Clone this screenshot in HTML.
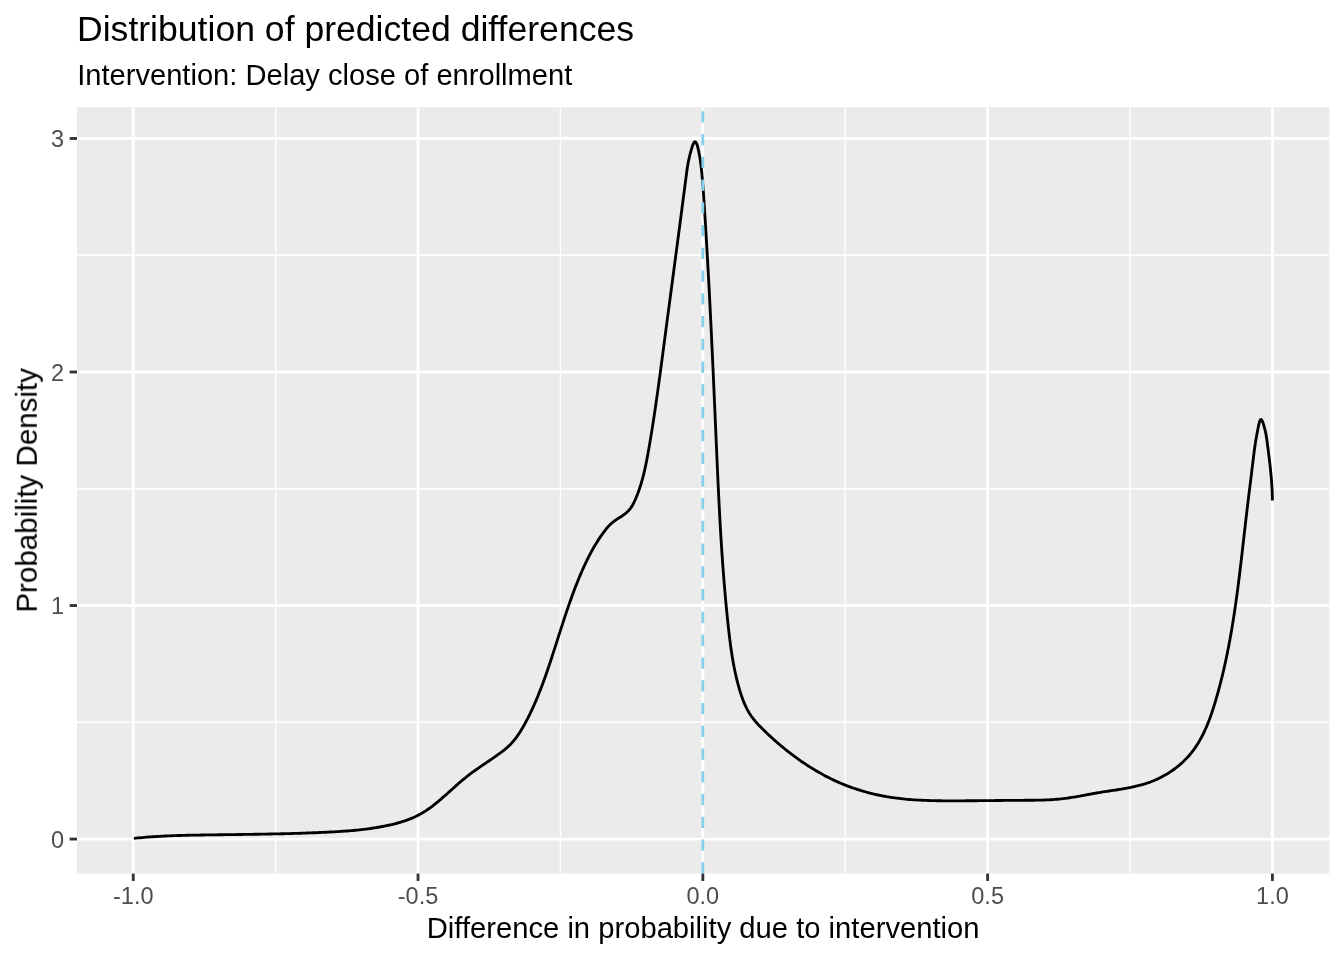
<!DOCTYPE html>
<html><head><meta charset="utf-8"><style>
html,body{margin:0;padding:0;background:#fff;width:1344px;height:960px;overflow:hidden}
svg{display:block}
</style></head><body>
<svg width="1344" height="960" viewBox="0 0 1344 960">
<rect width="1344" height="960" fill="#fff"/>
<rect x="77.0" y="107.1" width="1252.33" height="766.50" fill="#EBEBEB"/>
<line x1="275.64" y1="107.1" x2="275.64" y2="873.6" stroke="#fff" stroke-width="1.423"/>
<line x1="560.43" y1="107.1" x2="560.43" y2="873.6" stroke="#fff" stroke-width="1.423"/>
<line x1="845.23" y1="107.1" x2="845.23" y2="873.6" stroke="#fff" stroke-width="1.423"/>
<line x1="1130.02" y1="107.1" x2="1130.02" y2="873.6" stroke="#fff" stroke-width="1.423"/>
<line x1="77.0" y1="722.29" x2="1329.33" y2="722.29" stroke="#fff" stroke-width="1.423"/>
<line x1="77.0" y1="488.77" x2="1329.33" y2="488.77" stroke="#fff" stroke-width="1.423"/>
<line x1="77.0" y1="255.25" x2="1329.33" y2="255.25" stroke="#fff" stroke-width="1.423"/>
<line x1="133.24" y1="107.1" x2="133.24" y2="873.6" stroke="#fff" stroke-width="2.845"/>
<line x1="418.04" y1="107.1" x2="418.04" y2="873.6" stroke="#fff" stroke-width="2.845"/>
<line x1="702.83" y1="107.1" x2="702.83" y2="873.6" stroke="#fff" stroke-width="2.845"/>
<line x1="987.62" y1="107.1" x2="987.62" y2="873.6" stroke="#fff" stroke-width="2.845"/>
<line x1="1272.42" y1="107.1" x2="1272.42" y2="873.6" stroke="#fff" stroke-width="2.845"/>
<line x1="77.0" y1="839.05" x2="1329.33" y2="839.05" stroke="#fff" stroke-width="2.845"/>
<line x1="77.0" y1="605.53" x2="1329.33" y2="605.53" stroke="#fff" stroke-width="2.845"/>
<line x1="77.0" y1="372.01" x2="1329.33" y2="372.01" stroke="#fff" stroke-width="2.845"/>
<line x1="77.0" y1="138.49" x2="1329.33" y2="138.49" stroke="#fff" stroke-width="2.845"/>
<path d="M133.95,838.40 L136.05,838.18 L138.15,837.96 L140.25,837.76 L142.35,837.56 L144.46,837.38 L146.56,837.20 L148.66,837.04 L150.77,836.88 L152.87,836.73 L154.98,836.59 L157.08,836.46 L159.19,836.34 L161.29,836.22 L163.40,836.11 L165.50,836.01 L167.61,835.92 L169.72,835.83 L171.82,835.74 L173.93,835.66 L176.04,835.59 L178.15,835.52 L180.26,835.46 L182.36,835.40 L184.47,835.34 L186.58,835.29 L188.69,835.25 L190.80,835.20 L192.91,835.16 L195.02,835.12 L197.13,835.08 L199.24,835.05 L201.35,835.01 L203.46,834.98 L205.57,834.95 L207.67,834.92 L209.78,834.89 L211.89,834.86 L214.00,834.83 L216.11,834.80 L218.22,834.77 L220.33,834.75 L222.44,834.72 L224.55,834.69 L226.66,834.66 L228.77,834.64 L230.88,834.61 L232.99,834.58 L235.10,834.55 L237.21,834.53 L239.32,834.50 L241.43,834.47 L243.54,834.44 L245.65,834.41 L247.76,834.38 L249.87,834.35 L251.98,834.32 L254.09,834.29 L256.20,834.25 L258.31,834.22 L260.42,834.18 L262.52,834.15 L264.63,834.11 L266.74,834.07 L268.85,834.03 L270.96,833.99 L273.07,833.95 L275.18,833.90 L277.29,833.86 L279.40,833.81 L281.51,833.76 L283.62,833.71 L285.73,833.66 L287.83,833.61 L289.94,833.55 L292.05,833.49 L294.16,833.43 L296.27,833.37 L298.38,833.31 L300.49,833.24 L302.60,833.17 L304.70,833.10 L306.81,833.03 L308.92,832.95 L311.03,832.87 L313.14,832.79 L315.24,832.71 L317.35,832.62 L319.46,832.53 L321.57,832.44 L323.68,832.34 L325.78,832.24 L327.89,832.14 L330.00,832.04 L332.10,831.93 L334.21,831.81 L336.32,831.69 L338.42,831.56 L340.53,831.43 L342.63,831.29 L344.74,831.14 L346.84,830.99 L348.94,830.82 L351.04,830.65 L353.14,830.46 L355.24,830.27 L357.34,830.06 L359.44,829.84 L361.53,829.61 L363.62,829.37 L365.72,829.11 L367.81,828.84 L369.90,828.56 L371.98,828.26 L374.07,827.94 L376.15,827.61 L378.23,827.26 L380.31,826.89 L382.39,826.51 L384.46,826.10 L386.54,825.68 L388.61,825.24 L390.67,824.77 L392.74,824.29 L394.80,823.78 L396.85,823.25 L398.89,822.69 L400.93,822.10 L402.95,821.47 L404.95,820.82 L406.94,820.12 L408.92,819.40 L410.87,818.63 L412.81,817.82 L414.72,816.96 L416.61,816.06 L418.47,815.11 L420.30,814.12 L422.11,813.08 L423.90,811.99 L425.66,810.87 L427.40,809.70 L429.12,808.51 L430.83,807.28 L432.51,806.01 L434.18,804.72 L435.84,803.41 L437.48,802.07 L439.11,800.71 L440.73,799.34 L442.34,797.95 L443.94,796.55 L445.54,795.13 L447.13,793.71 L448.72,792.29 L450.31,790.86 L451.89,789.43 L453.48,788.01 L455.06,786.59 L456.65,785.17 L458.25,783.77 L459.85,782.38 L461.46,781.01 L463.07,779.65 L464.70,778.32 L466.34,777.01 L467.99,775.72 L469.65,774.45 L471.32,773.19 L473.00,771.96 L474.69,770.73 L476.38,769.52 L478.09,768.32 L479.80,767.13 L481.53,765.94 L483.26,764.76 L484.99,763.57 L486.73,762.39 L488.48,761.21 L490.23,760.02 L491.99,758.83 L493.75,757.63 L495.52,756.42 L497.27,755.19 L499.01,753.94 L500.74,752.67 L502.44,751.38 L504.11,750.06 L505.75,748.70 L507.35,747.31 L508.90,745.88 L510.40,744.40 L511.84,742.88 L513.22,741.31 L514.56,739.70 L515.85,738.06 L517.09,736.38 L518.29,734.66 L519.45,732.92 L520.58,731.15 L521.68,729.36 L522.74,727.55 L523.79,725.72 L524.80,723.88 L525.81,722.03 L526.79,720.17 L527.76,718.30 L528.71,716.42 L529.64,714.53 L530.56,712.64 L531.47,710.73 L532.36,708.82 L533.23,706.91 L534.10,704.98 L534.94,703.05 L535.78,701.11 L536.60,699.17 L537.42,697.22 L538.22,695.27 L539.00,693.31 L539.78,691.34 L540.55,689.37 L541.31,687.40 L542.06,685.42 L542.79,683.44 L543.52,681.45 L544.25,679.46 L544.96,677.47 L545.67,675.47 L546.37,673.48 L547.06,671.48 L547.75,669.48 L548.43,667.47 L549.10,665.47 L549.77,663.46 L550.44,661.46 L551.10,659.45 L551.76,657.44 L552.41,655.43 L553.06,653.43 L553.71,651.42 L554.36,649.41 L555.00,647.40 L555.65,645.39 L556.29,643.39 L556.93,641.38 L557.57,639.37 L558.21,637.37 L558.85,635.36 L559.49,633.36 L560.13,631.35 L560.77,629.35 L561.42,627.34 L562.06,625.34 L562.71,623.34 L563.36,621.34 L564.02,619.34 L564.68,617.35 L565.34,615.35 L566.01,613.36 L566.68,611.36 L567.35,609.37 L568.03,607.38 L568.72,605.40 L569.41,603.41 L570.11,601.43 L570.82,599.44 L571.53,597.46 L572.25,595.49 L572.98,593.51 L573.71,591.54 L574.46,589.57 L575.21,587.60 L575.97,585.63 L576.74,583.67 L577.52,581.71 L578.32,579.75 L579.12,577.80 L579.93,575.85 L580.76,573.90 L581.60,571.95 L582.45,570.01 L583.31,568.08 L584.18,566.15 L585.07,564.23 L585.98,562.31 L586.90,560.40 L587.84,558.50 L588.79,556.61 L589.76,554.73 L590.75,552.86 L591.76,551.00 L592.78,549.16 L593.83,547.33 L594.89,545.51 L595.98,543.70 L597.09,541.91 L598.22,540.14 L599.37,538.38 L600.54,536.64 L601.74,534.92 L602.96,533.22 L604.21,531.53 L605.49,529.87 L606.79,528.23 L608.15,526.64 L609.56,525.11 L611.06,523.66 L612.64,522.29 L614.32,521.02 L616.07,519.82 L617.87,518.67 L619.69,517.52 L621.50,516.36 L623.27,515.14 L624.98,513.87 L626.62,512.52 L628.15,511.08 L629.57,509.54 L630.84,507.89 L631.99,506.15 L633.03,504.32 L633.98,502.44 L634.88,500.52 L635.72,498.58 L636.54,496.63 L637.32,494.67 L638.07,492.70 L638.79,490.72 L639.48,488.73 L640.14,486.73 L640.77,484.72 L641.38,482.71 L641.96,480.69 L642.53,478.66 L643.06,476.63 L643.58,474.59 L644.08,472.54 L644.56,470.49 L645.03,468.43 L645.47,466.37 L645.91,464.31 L646.33,462.24 L646.74,460.17 L647.14,458.09 L647.52,456.02 L647.90,453.94 L648.28,451.86 L648.64,449.78 L649.01,447.70 L649.37,445.61 L649.72,443.53 L650.07,441.45 L650.42,439.37 L650.77,437.28 L651.11,435.20 L651.45,433.11 L651.79,431.03 L652.12,428.94 L652.45,426.86 L652.78,424.77 L653.10,422.69 L653.43,420.60 L653.75,418.51 L654.06,416.43 L654.38,414.34 L654.69,412.25 L655.00,410.17 L655.31,408.08 L655.61,405.99 L655.92,403.90 L656.22,401.82 L656.52,399.73 L656.82,397.64 L657.11,395.55 L657.41,393.46 L657.70,391.37 L657.99,389.28 L658.28,387.19 L658.57,385.10 L658.85,383.01 L659.14,380.93 L659.42,378.84 L659.71,376.75 L659.99,374.66 L660.27,372.57 L660.55,370.48 L660.83,368.39 L661.11,366.30 L661.39,364.21 L661.67,362.11 L661.94,360.02 L662.22,357.93 L662.50,355.84 L662.77,353.75 L663.05,351.66 L663.32,349.57 L663.60,347.48 L663.87,345.39 L664.15,343.30 L664.43,341.21 L664.70,339.12 L664.98,337.03 L665.25,334.94 L665.53,332.85 L665.81,330.76 L666.08,328.67 L666.36,326.58 L666.64,324.49 L666.91,322.40 L667.19,320.31 L667.47,318.22 L667.74,316.13 L668.02,314.04 L668.30,311.95 L668.58,309.86 L668.85,307.77 L669.13,305.68 L669.41,303.59 L669.68,301.50 L669.96,299.41 L670.24,297.32 L670.52,295.23 L670.79,293.14 L671.07,291.05 L671.35,288.96 L671.63,286.87 L671.90,284.78 L672.18,282.69 L672.46,280.60 L672.73,278.51 L673.01,276.42 L673.29,274.33 L673.57,272.24 L673.84,270.15 L674.12,268.06 L674.40,265.97 L674.67,263.88 L674.95,261.79 L675.23,259.70 L675.51,257.61 L675.78,255.51 L676.06,253.42 L676.34,251.33 L676.61,249.24 L676.89,247.15 L677.16,245.06 L677.44,242.97 L677.72,240.88 L677.99,238.78 L678.27,236.69 L678.54,234.60 L678.82,232.51 L679.10,230.42 L679.37,228.32 L679.65,226.23 L679.92,224.14 L680.20,222.05 L680.47,219.95 L680.75,217.86 L681.02,215.77 L681.30,213.67 L681.57,211.58 L681.85,209.49 L682.12,207.39 L682.39,205.30 L682.67,203.21 L682.94,201.11 L683.21,199.02 L683.49,196.92 L683.76,194.83 L684.03,192.73 L684.31,190.64 L684.58,188.54 L684.85,186.45 L685.12,184.35 L685.39,182.26 L685.67,180.16 L685.94,178.07 L686.21,175.97 L686.48,173.87 L686.75,171.78 L687.03,169.71 L687.33,167.67 L687.64,165.67 L687.98,163.71 L688.35,161.77 L688.76,159.80 L689.23,157.74 L689.76,155.54 L690.36,153.17 L691.05,150.59 L691.81,147.95 L692.62,145.49 L693.46,143.46 L694.31,142.10 L695.14,141.66 L695.94,142.27 L696.70,143.78 L697.41,145.92 L698.06,148.45 L698.65,151.13 L699.16,153.72 L699.60,156.11 L699.98,158.33 L700.30,160.43 L700.59,162.45 L700.85,164.43 L701.10,166.41 L701.33,168.41 L701.55,170.43 L701.76,172.46 L701.96,174.52 L702.16,176.59 L702.34,178.67 L702.52,180.76 L702.69,182.87 L702.86,184.98 L703.02,187.11 L703.17,189.23 L703.32,191.37 L703.47,193.50 L703.61,195.64 L703.75,197.78 L703.89,199.91 L704.03,202.05 L704.16,204.17 L704.30,206.30 L704.44,208.42 L704.57,210.54 L704.70,212.65 L704.84,214.76 L704.97,216.87 L705.10,218.97 L705.23,221.08 L705.36,223.18 L705.49,225.28 L705.62,227.37 L705.75,229.47 L705.88,231.57 L706.01,233.66 L706.13,235.75 L706.26,237.85 L706.38,239.94 L706.51,242.04 L706.63,244.13 L706.75,246.23 L706.88,248.33 L707.00,250.42 L707.12,252.52 L707.24,254.62 L707.36,256.71 L707.48,258.81 L707.60,260.91 L707.72,263.01 L707.83,265.11 L707.95,267.21 L708.07,269.31 L708.18,271.41 L708.30,273.51 L708.41,275.61 L708.53,277.72 L708.64,279.82 L708.75,281.92 L708.86,284.02 L708.98,286.13 L709.09,288.23 L709.20,290.33 L709.31,292.44 L709.42,294.54 L709.53,296.65 L709.63,298.75 L709.74,300.86 L709.85,302.96 L709.96,305.07 L710.06,307.17 L710.17,309.28 L710.28,311.39 L710.38,313.49 L710.49,315.60 L710.59,317.71 L710.70,319.81 L710.80,321.92 L710.90,324.03 L711.01,326.14 L711.11,328.25 L711.21,330.35 L711.31,332.46 L711.41,334.57 L711.51,336.68 L711.61,338.79 L711.71,340.90 L711.81,343.01 L711.91,345.12 L712.01,347.23 L712.11,349.34 L712.21,351.45 L712.31,353.56 L712.41,355.67 L712.50,357.78 L712.60,359.89 L712.70,362.00 L712.80,364.11 L712.89,366.22 L712.99,368.33 L713.09,370.44 L713.18,372.55 L713.28,374.66 L713.37,376.77 L713.47,378.88 L713.56,380.99 L713.66,383.10 L713.75,385.21 L713.85,387.32 L713.94,389.43 L714.03,391.54 L714.13,393.66 L714.22,395.77 L714.31,397.88 L714.41,399.99 L714.50,402.10 L714.59,404.21 L714.69,406.32 L714.78,408.43 L714.87,410.54 L714.96,412.65 L715.06,414.76 L715.15,416.87 L715.24,418.98 L715.33,421.09 L715.43,423.20 L715.52,425.31 L715.61,427.42 L715.70,429.53 L715.79,431.64 L715.88,433.75 L715.98,435.86 L716.07,437.97 L716.16,440.07 L716.25,442.18 L716.34,444.29 L716.43,446.40 L716.53,448.51 L716.62,450.62 L716.71,452.72 L716.80,454.83 L716.89,456.94 L716.99,459.05 L717.08,461.15 L717.17,463.26 L717.27,465.37 L717.36,467.47 L717.46,469.58 L717.55,471.69 L717.65,473.79 L717.74,475.90 L717.84,478.00 L717.94,480.11 L718.03,482.21 L718.13,484.32 L718.23,486.43 L718.33,488.53 L718.43,490.64 L718.53,492.74 L718.64,494.85 L718.74,496.95 L718.84,499.06 L718.95,501.16 L719.05,503.26 L719.16,505.37 L719.27,507.47 L719.38,509.58 L719.49,511.68 L719.60,513.78 L719.71,515.89 L719.83,517.99 L719.94,520.10 L720.06,522.20 L720.18,524.30 L720.30,526.41 L720.42,528.51 L720.54,530.61 L720.67,532.72 L720.79,534.82 L720.92,536.92 L721.05,539.03 L721.18,541.13 L721.31,543.23 L721.44,545.33 L721.58,547.44 L721.72,549.54 L721.86,551.64 L722.00,553.74 L722.14,555.85 L722.28,557.95 L722.43,560.05 L722.58,562.15 L722.73,564.26 L722.88,566.36 L723.04,568.46 L723.20,570.56 L723.36,572.67 L723.52,574.77 L723.68,576.87 L723.85,578.97 L724.02,581.07 L724.19,583.18 L724.36,585.28 L724.54,587.38 L724.72,589.48 L724.90,591.58 L725.08,593.69 L725.27,595.79 L725.45,597.89 L725.64,599.99 L725.84,602.10 L726.04,604.20 L726.23,606.30 L726.44,608.40 L726.64,610.50 L726.85,612.61 L727.06,614.71 L727.27,616.81 L727.49,618.91 L727.71,621.01 L727.93,623.12 L728.16,625.22 L728.39,627.32 L728.62,629.42 L728.86,631.52 L729.10,633.63 L729.35,635.73 L729.60,637.83 L729.86,639.92 L730.13,642.02 L730.40,644.12 L730.68,646.21 L730.98,648.31 L731.28,650.40 L731.59,652.49 L731.91,654.57 L732.24,656.66 L732.58,658.74 L732.94,660.82 L733.31,662.89 L733.69,664.97 L734.09,667.04 L734.50,669.10 L734.92,671.16 L735.36,673.22 L735.82,675.28 L736.29,677.33 L736.78,679.38 L737.29,681.42 L737.82,683.45 L738.36,685.49 L738.93,687.51 L739.51,689.54 L740.12,691.55 L740.75,693.56 L741.40,695.56 L742.09,697.55 L742.81,699.52 L743.57,701.48 L744.36,703.42 L745.21,705.33 L746.10,707.22 L747.04,709.09 L748.03,710.93 L749.09,712.74 L750.20,714.51 L751.38,716.25 L752.63,717.95 L753.94,719.62 L755.30,721.25 L756.71,722.85 L758.15,724.43 L759.63,725.98 L761.13,727.52 L762.64,729.03 L764.17,730.53 L765.70,732.02 L767.23,733.49 L768.77,734.94 L770.32,736.38 L771.87,737.81 L773.43,739.23 L775.00,740.63 L776.58,742.02 L778.16,743.39 L779.76,744.75 L781.36,746.10 L782.97,747.43 L784.59,748.76 L786.22,750.07 L787.85,751.36 L789.50,752.65 L791.16,753.92 L792.83,755.18 L794.51,756.43 L796.20,757.66 L797.91,758.89 L799.62,760.10 L801.35,761.30 L803.09,762.49 L804.84,763.67 L806.60,764.83 L808.37,765.98 L810.16,767.12 L811.95,768.24 L813.76,769.34 L815.57,770.43 L817.40,771.51 L819.24,772.56 L821.08,773.60 L822.94,774.63 L824.80,775.63 L826.68,776.62 L828.56,777.58 L830.46,778.53 L832.36,779.46 L834.27,780.36 L836.19,781.25 L838.12,782.11 L840.05,782.96 L842.00,783.78 L843.95,784.58 L845.91,785.36 L847.88,786.12 L849.85,786.85 L851.83,787.57 L853.82,788.26 L855.82,788.94 L857.82,789.59 L859.82,790.22 L861.84,790.84 L863.86,791.43 L865.88,792.00 L867.91,792.55 L869.95,793.08 L871.99,793.59 L874.04,794.08 L876.09,794.55 L878.14,795.00 L880.20,795.43 L882.27,795.84 L884.33,796.24 L886.40,796.61 L888.48,796.96 L890.56,797.29 L892.64,797.60 L894.72,797.90 L896.81,798.17 L898.90,798.43 L901.00,798.67 L903.09,798.90 L905.19,799.11 L907.29,799.30 L909.39,799.48 L911.50,799.64 L913.60,799.80 L915.71,799.93 L917.82,800.06 L919.93,800.17 L922.04,800.28 L924.16,800.37 L926.27,800.45 L928.38,800.52 L930.50,800.58 L932.62,800.64 L934.73,800.68 L936.85,800.72 L938.97,800.76 L941.08,800.78 L943.20,800.80 L945.31,800.82 L947.43,800.83 L949.54,800.83 L951.66,800.83 L953.77,800.83 L955.88,800.83 L957.99,800.83 L960.10,800.82 L962.21,800.81 L964.32,800.80 L966.43,800.79 L968.53,800.77 L970.64,800.76 L972.75,800.74 L974.85,800.73 L976.95,800.71 L979.06,800.69 L981.16,800.67 L983.27,800.65 L985.37,800.63 L987.47,800.61 L989.58,800.59 L991.68,800.57 L993.78,800.55 L995.89,800.52 L997.99,800.50 L1000.10,800.48 L1002.20,800.46 L1004.31,800.44 L1006.42,800.42 L1008.52,800.40 L1010.63,800.38 L1012.74,800.37 L1014.85,800.35 L1016.96,800.34 L1019.08,800.32 L1021.19,800.31 L1023.30,800.30 L1025.42,800.29 L1027.54,800.28 L1029.65,800.26 L1031.77,800.25 L1033.89,800.23 L1036.01,800.20 L1038.12,800.16 L1040.24,800.12 L1042.35,800.06 L1044.47,799.99 L1046.58,799.91 L1048.69,799.82 L1050.79,799.71 L1052.90,799.58 L1055.00,799.43 L1057.10,799.26 L1059.19,799.07 L1061.28,798.86 L1063.37,798.62 L1065.45,798.36 L1067.53,798.08 L1069.61,797.78 L1071.68,797.46 L1073.75,797.13 L1075.82,796.78 L1077.89,796.42 L1079.96,796.05 L1082.03,795.67 L1084.10,795.29 L1086.17,794.91 L1088.24,794.52 L1090.31,794.14 L1092.38,793.76 L1094.46,793.38 L1096.54,793.01 L1098.62,792.66 L1100.71,792.31 L1102.80,791.97 L1104.89,791.65 L1106.98,791.33 L1109.08,791.01 L1111.18,790.69 L1113.28,790.38 L1115.37,790.06 L1117.47,789.74 L1119.57,789.41 L1121.66,789.07 L1123.75,788.72 L1125.83,788.35 L1127.91,787.97 L1129.99,787.57 L1132.05,787.15 L1134.12,786.70 L1136.17,786.23 L1138.22,785.73 L1140.26,785.21 L1142.28,784.65 L1144.30,784.05 L1146.31,783.42 L1148.31,782.75 L1150.29,782.04 L1152.26,781.28 L1154.22,780.48 L1156.16,779.64 L1158.08,778.75 L1159.99,777.83 L1161.88,776.86 L1163.74,775.85 L1165.59,774.80 L1167.41,773.72 L1169.21,772.59 L1170.98,771.43 L1172.73,770.22 L1174.45,768.98 L1176.14,767.71 L1177.79,766.40 L1179.42,765.05 L1181.01,763.67 L1182.57,762.26 L1184.10,760.81 L1185.58,759.33 L1187.03,757.82 L1188.44,756.28 L1189.81,754.70 L1191.14,753.10 L1192.42,751.47 L1193.67,749.80 L1194.88,748.12 L1196.05,746.40 L1197.18,744.66 L1198.28,742.90 L1199.35,741.11 L1200.38,739.30 L1201.38,737.47 L1202.35,735.62 L1203.29,733.75 L1204.20,731.86 L1205.09,729.96 L1205.94,728.03 L1206.78,726.10 L1207.58,724.15 L1208.37,722.18 L1209.13,720.20 L1209.88,718.22 L1210.60,716.22 L1211.31,714.21 L1211.99,712.19 L1212.66,710.17 L1213.32,708.14 L1213.96,706.10 L1214.59,704.06 L1215.21,702.02 L1215.81,699.98 L1216.41,697.93 L1217.00,695.88 L1217.57,693.83 L1218.14,691.78 L1218.70,689.73 L1219.26,687.68 L1219.80,685.63 L1220.33,683.57 L1220.86,681.52 L1221.38,679.46 L1221.89,677.40 L1222.39,675.35 L1222.88,673.29 L1223.37,671.23 L1223.85,669.17 L1224.32,667.11 L1224.78,665.04 L1225.24,662.98 L1225.68,660.92 L1226.13,658.85 L1226.56,656.79 L1226.99,654.72 L1227.41,652.65 L1227.82,650.58 L1228.23,648.52 L1228.64,646.45 L1229.03,644.38 L1229.42,642.31 L1229.80,640.23 L1230.18,638.16 L1230.55,636.09 L1230.92,634.01 L1231.28,631.94 L1231.64,629.87 L1231.99,627.79 L1232.33,625.71 L1232.67,623.64 L1233.01,621.56 L1233.34,619.48 L1233.67,617.40 L1233.99,615.32 L1234.30,613.24 L1234.62,611.16 L1234.92,609.08 L1235.23,607.00 L1235.53,604.92 L1235.83,602.84 L1236.12,600.75 L1236.41,598.67 L1236.69,596.59 L1236.98,594.50 L1237.26,592.42 L1237.53,590.33 L1237.81,588.25 L1238.08,586.16 L1238.34,584.07 L1238.61,581.99 L1238.87,579.90 L1239.13,577.81 L1239.39,575.72 L1239.65,573.64 L1239.90,571.55 L1240.15,569.46 L1240.40,567.37 L1240.65,565.28 L1240.90,563.19 L1241.14,561.10 L1241.39,559.01 L1241.63,556.92 L1241.87,554.83 L1242.11,552.74 L1242.35,550.65 L1242.59,548.56 L1242.83,546.46 L1243.07,544.37 L1243.31,542.28 L1243.55,540.19 L1243.79,538.10 L1244.02,536.01 L1244.26,533.91 L1244.50,531.82 L1244.74,529.73 L1244.98,527.64 L1245.22,525.54 L1245.46,523.45 L1245.70,521.36 L1245.94,519.26 L1246.19,517.17 L1246.43,515.08 L1246.68,512.99 L1246.92,510.89 L1247.17,508.80 L1247.42,506.71 L1247.68,504.62 L1247.93,502.52 L1248.18,500.43 L1248.44,498.33 L1248.70,496.24 L1248.95,494.14 L1249.21,492.05 L1249.47,489.95 L1249.73,487.85 L1249.99,485.75 L1250.25,483.65 L1250.51,481.54 L1250.77,479.44 L1251.03,477.33 L1251.29,475.22 L1251.55,473.11 L1251.80,471.00 L1252.06,468.88 L1252.32,466.76 L1252.58,464.64 L1252.83,462.52 L1253.09,460.39 L1253.34,458.27 L1253.60,456.16 L1253.86,454.06 L1254.13,451.97 L1254.40,449.90 L1254.68,447.86 L1254.96,445.84 L1255.26,443.85 L1255.56,441.90 L1255.88,439.96 L1256.22,437.99 L1256.58,435.98 L1256.97,433.87 L1257.40,431.66 L1257.86,429.29 L1258.37,426.74 L1258.93,424.11 L1259.54,421.74 L1260.22,420.05 L1260.97,419.43 L1261.79,420.11 L1262.64,421.82 L1263.47,424.17 L1264.23,426.78 L1264.89,429.30 L1265.43,431.65 L1265.89,433.86 L1266.27,435.95 L1266.59,437.97 L1266.87,439.93 L1267.12,441.88 L1267.37,443.84 L1267.63,445.84 L1267.89,447.87 L1268.16,449.92 L1268.42,452.00 L1268.69,454.10 L1268.95,456.21 L1269.22,458.33 L1269.47,460.46 L1269.73,462.59 L1269.97,464.72 L1270.21,466.84 L1270.43,468.96 L1270.65,471.07 L1270.86,473.18 L1271.05,475.28 L1271.24,477.38 L1271.41,479.48 L1271.57,481.58 L1271.72,483.68 L1271.86,485.77 L1271.98,487.87 L1272.09,489.97 L1272.18,492.07 L1272.26,494.17 L1272.32,496.28 L1272.37,498.39 L1272.40,500.50" fill="none" stroke="#000" stroke-width="2.845" stroke-linejoin="round" stroke-linecap="butt"/>
<line x1="702.83" y1="873.6" x2="702.83" y2="107.1" stroke="#87CEEB" stroke-width="2.845" stroke-dasharray="11.38 11.38"/>
<line x1="133.24" y1="873.6" x2="133.24" y2="880.93" stroke="#333" stroke-width="2.845"/>
<line x1="418.04" y1="873.6" x2="418.04" y2="880.93" stroke="#333" stroke-width="2.845"/>
<line x1="702.83" y1="873.6" x2="702.83" y2="880.93" stroke="#333" stroke-width="2.845"/>
<line x1="987.62" y1="873.6" x2="987.62" y2="880.93" stroke="#333" stroke-width="2.845"/>
<line x1="1272.42" y1="873.6" x2="1272.42" y2="880.93" stroke="#333" stroke-width="2.845"/>
<line x1="69.67" y1="839.05" x2="77.0" y2="839.05" stroke="#333" stroke-width="2.845"/>
<line x1="69.67" y1="605.53" x2="77.0" y2="605.53" stroke="#333" stroke-width="2.845"/>
<line x1="69.67" y1="372.01" x2="77.0" y2="372.01" stroke="#333" stroke-width="2.845"/>
<line x1="69.67" y1="138.49" x2="77.0" y2="138.49" stroke="#333" stroke-width="2.845"/>
<g style="filter:grayscale(1)">
<text x="133.24" y="903.6" text-anchor="middle" style="font-family:'Liberation Sans',sans-serif;font-size:23.5px" fill="#4D4D4D">-1.0</text>
<text x="418.04" y="903.6" text-anchor="middle" style="font-family:'Liberation Sans',sans-serif;font-size:23.5px" fill="#4D4D4D">-0.5</text>
<text x="702.83" y="903.6" text-anchor="middle" style="font-family:'Liberation Sans',sans-serif;font-size:23.5px" fill="#4D4D4D">0.0</text>
<text x="987.62" y="903.6" text-anchor="middle" style="font-family:'Liberation Sans',sans-serif;font-size:23.5px" fill="#4D4D4D">0.5</text>
<text x="1272.42" y="903.6" text-anchor="middle" style="font-family:'Liberation Sans',sans-serif;font-size:23.5px" fill="#4D4D4D">1.0</text>
<text x="64.0" y="847.85" text-anchor="end" style="font-family:'Liberation Sans',sans-serif;font-size:23.5px" fill="#4D4D4D">0</text>
<text x="64.0" y="614.33" text-anchor="end" style="font-family:'Liberation Sans',sans-serif;font-size:23.5px" fill="#4D4D4D">1</text>
<text x="64.0" y="380.81" text-anchor="end" style="font-family:'Liberation Sans',sans-serif;font-size:23.5px" fill="#4D4D4D">2</text>
<text x="64.0" y="147.29" text-anchor="end" style="font-family:'Liberation Sans',sans-serif;font-size:23.5px" fill="#4D4D4D">3</text>
<text x="77.0" y="41.3" style="font-family:'Liberation Sans',sans-serif;font-size:35.6px" fill="#000">Distribution of predicted differences</text>
<text x="77.2" y="84.6" style="font-family:'Liberation Sans',sans-serif;font-size:29.12px" fill="#000">Intervention: Delay close of enrollment</text>
<text x="703.16" y="937.6" text-anchor="middle" style="font-family:'Liberation Sans',sans-serif;font-size:29.2px" fill="#000">Difference in probability due to intervention</text>
<text x="0" y="0" transform="translate(36.8,490.35) rotate(-90)" text-anchor="middle" style="font-family:'Liberation Sans',sans-serif;font-size:29.55px" fill="#000">Probability Density</text>
</g>
</svg>
</body></html>
